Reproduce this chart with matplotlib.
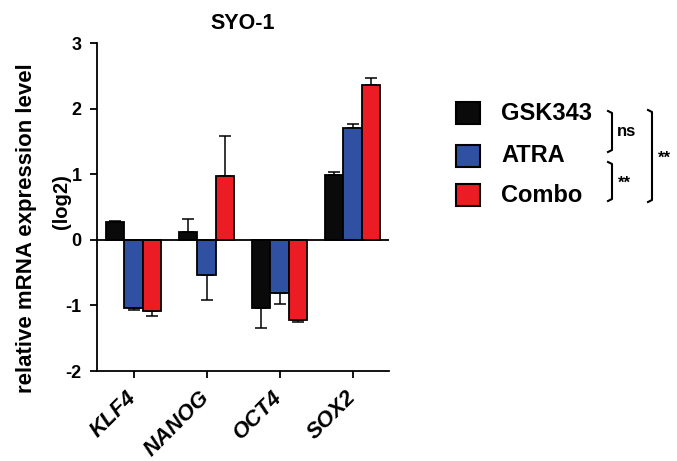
import numpy as np
import matplotlib
matplotlib.use('Agg')
import matplotlib.pyplot as plt
from matplotlib.lines import Line2D

plt.rcParams['font.family'] = ['Liberation Sans', 'DejaVu Sans']
plt.rcParams['font.weight'] = 'bold'

genes = ['KLF4', 'NANOG', 'OCT4', 'SOX2']
treatments = ['GSK343', 'ATRA', 'Combo']
colors = ['#0a0a0a', '#3051a2', '#ec1c24']

gsk = [0.27, 0.12, -1.04, 0.99]
gsk_err = [0.02, 0.20, 0.30, 0.05]
atra = [-1.04, -0.54, -0.81, 1.71]
atra_err = [0.03, 0.38, 0.17, 0.06]
combo = [-1.09, 0.97, -1.22, 2.36]
combo_err = [0.07, 0.61, 0.03, 0.10]

series = [gsk, atra, combo]
errors = [gsk_err, atra_err, combo_err]

W, H = 677, 461
fig = plt.figure(figsize=(6.77, 4.61), dpi=100)
ax = fig.add_axes([97 / W, 1 - 371 / H, 292 / W, 328 / H])

x = np.arange(len(genes))
w = 0.25
for i, (vals, errs) in enumerate(zip(series, errors)):
    vals = np.array(vals)
    errs = np.array(errs)
    pos = x + (i - 1) * w
    ax.bar(pos, vals, width=w, color=colors[i], edgecolor='black', linewidth=1.3, zorder=2)
    lower = np.where(vals < 0, errs, 0)
    upper = np.where(vals >= 0, errs, 0)
    ax.errorbar(pos, vals, yerr=[lower, upper], fmt='none', ecolor='black',
                elinewidth=1.1, capsize=4, capthick=1.1, zorder=1)

ax.axhline(0, color='black', linewidth=1.3, zorder=3)
ax.set_xlim(-0.5, 3.5)
ax.set_ylim(-2, 3)
ax.set_yticks([-2, -1, 0, 1, 2, 3])
ax.set_yticklabels(['-2', '-1', '0', '1', '2', '3'], fontsize=13, fontweight='bold')
ax.set_xticks(x)
ax.set_xticklabels(genes, rotation=45, ha='right', va='center', rotation_mode='anchor',
                   fontsize=16, fontweight='bold', fontstyle='italic')
ax.spines['top'].set_visible(False)
ax.spines['right'].set_visible(False)
for s in ['left', 'bottom']:
    ax.spines[s].set_linewidth(1.3)
ax.tick_params(axis='both', direction='out', length=5, width=1.3)
ax.tick_params(axis='y', pad=6)
ax.tick_params(axis='x', pad=12)
ax.set_title('SYO-1', fontsize=15.5, fontweight='bold', pad=10)

fig.text(27 / W, 1 - 228 / H, 'relative mRNA expression level', rotation=90,
         fontsize=16, fontweight='bold', ha='center', va='center')
fig.text(62 / W, 1 - 202 / H, '(log2)', rotation=90,
         fontsize=14.5, fontweight='bold', ha='center', va='center')

# legend drawn by hand in figure pixels
rows_y = [113, 156, 195]
for c, lab, yy in zip(colors, treatments, rows_y):
    fig.patches.append(plt.Rectangle((456 / W, 1 - (yy + 11) / H), 24 / W, 22 / H,
                                     transform=fig.transFigure, facecolor=c,
                                     edgecolor='black', linewidth=1.5))
    fig.text(501 / W, 1 - yy / H, lab, fontsize=17, fontweight='bold', va='center')


def bracket(xp, y0, y1):
    xs = [xp - 4, xp, xp, xp - 4]
    ys = [y0, y0 + 2, y1 - 2, y1]
    fig.lines.append(Line2D([v / W for v in xs], [1 - v / H for v in ys],
                            transform=fig.transFigure, color='black', linewidth=1.5))


bracket(612, 111, 152)
bracket(612, 162, 201)
bracket(652, 110, 202)
fig.text(617 / W, 1 - 131 / H, 'ns', fontsize=12, fontweight='bold', va='center')
fig.text(618 / W, 1 - 183 / H, '**', fontsize=12, fontweight='bold', va='center')
fig.text(658 / W, 1 - 158 / H, '**', fontsize=12, fontweight='bold', va='center')

fig.savefig('out.png', dpi=100)
